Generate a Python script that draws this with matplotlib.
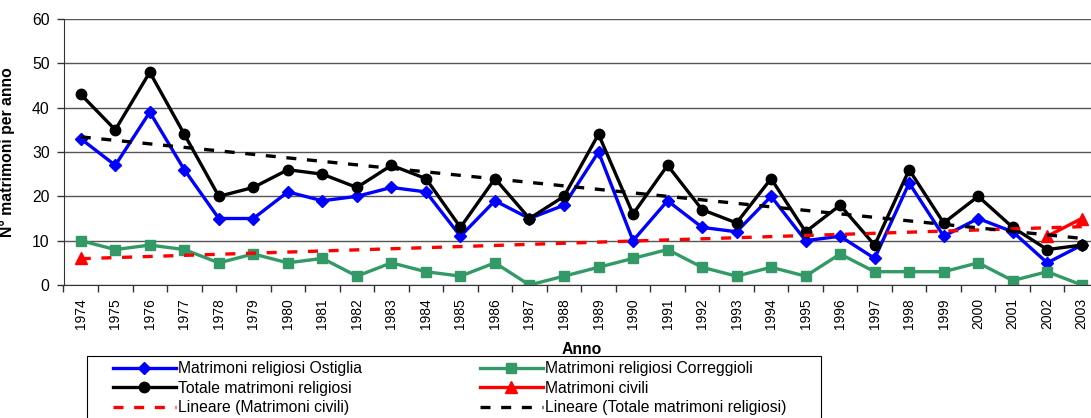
import matplotlib
matplotlib.use("Agg")
import matplotlib.pyplot as plt
from matplotlib.patches import Rectangle
import numpy as np

plt.rcParams['font.family'] = ['Liberation Sans', 'DejaVu Sans']

# dati
anni = list(range(1974, 2004))
ostiglia = [33, 27, 39, 26, 15, 15, 21, 19, 20, 22, 21, 11, 19, 15, 18,
            30, 10, 19, 13, 12, 20, 10, 11, 6, 23, 11, 15, 12, 5, 9]
correggioli = [10, 8, 9, 8, 5, 7, 5, 6, 2, 5, 3, 2, 5, 0, 2,
               4, 6, 8, 4, 2, 4, 2, 7, 3, 3, 3, 5, 1, 3, 0]
totale = [43, 35, 48, 34, 20, 22, 26, 25, 22, 27, 24, 13, 24, 15, 20,
          34, 16, 27, 17, 14, 24, 12, 18, 9, 26, 14, 20, 13, 8, 9]
civili = [6] + [None] * 27 + [11, 15]

FS = 11.3
W, H = 1091, 418
x = np.arange(len(anni))
civ = np.array([np.nan if v is None else v for v in civili], dtype=float)

fig = plt.figure(figsize=(W / 100, H / 100), dpi=100)
ax = fig.add_axes([63.5 / W, 1 - 285 / H, 1035.5 / W, 266 / H])

l1, = ax.plot(x, ostiglia, color="#0000ff", lw=2.4, marker="D", ms=6.5,
              label="Matrimoni religiosi Ostiglia")
l2, = ax.plot(x, correggioli, color="#339966", lw=2.4, marker="s", ms=7,
              label="Matrimoni religiosi Correggioli")
l3, = ax.plot(x, totale, color="black", lw=2.4, marker="o", ms=7.5,
              label="Totale matrimoni religiosi")
l4, = ax.plot(x, civ, color="#ff0000", lw=2.4, marker="^", ms=8,
              label="Matrimoni civili")

# linee di tendenza lineari (come Excel)
ok = ~np.isnan(civ)
pc = np.polyfit(x[ok], civ[ok], 1)
pt = np.polyfit(x, totale, 1)
l5, = ax.plot(x, np.polyval(pc, x), color="#ff0000", lw=2.4, ls=(0, (3, 3.2)),
              label="Lineare (Matrimoni civili)")
l6, = ax.plot(x, np.polyval(pt, x), color="black", lw=2.4, ls=(0, (3, 3.2)),
              label="Lineare (Totale matrimoni religiosi)")

ax.set_xlim(-0.5, len(anni) - 0.5)
ax.set_ylim(0, 60)
ax.set_yticks(range(0, 61, 10))
ax.yaxis.grid(True, color="#555555", lw=1)
ax.set_axisbelow(True)
ax.set_xticks(x)
ax.set_xticklabels([str(a) for a in anni], rotation=90, fontsize=10,
                   family=['Liberation Sans Narrow', 'Liberation Sans'])
ax.set_xticks(np.arange(-0.5, len(anni), 1), minor=True)
ax.tick_params(axis="x", which="major", length=0, pad=9.4)
ax.tick_params(axis="x", which="minor", length=5, width=1, color="#333333")
ax.tick_params(axis="y", length=5, width=1, pad=5, labelsize=FS, color="#333333")
for s in ["top", "right"]:
    ax.spines[s].set_visible(False)
ax.spines["left"].set_color("#333333")
ax.spines["bottom"].set_color("#333333")

ax.set_ylabel("N° matrimoni per anno", fontsize=FS, fontweight="bold")
ax.yaxis.set_label_coords(-0.047, 0.5)
ax.set_xlabel("Anno", fontsize=FS, fontweight="bold")
ax.xaxis.set_label_coords(0.5, -0.215)

# legenda: cornice disegnata a parte, taglia il bordo inferiore
fig.patches.append(Rectangle((87 / W, -0.1), 734 / W, 0.1 + 1 - 356 / H,
                             transform=fig.transFigure, fill=True, facecolor="white",
                             edgecolor="black", lw=0.8, zorder=1))
handles = [l1, l3, l5, l2, l4, l6]
leg = fig.legend(handles=handles, labels=[h.get_label() for h in handles],
                 loc="upper left", bbox_to_anchor=(113 / W, 1 - 361 / H),
                 ncol=2, fontsize=FS, frameon=False, handlelength=4.0,
                 handletextpad=0.15, columnspacing=7.5, borderpad=0,
                 labelspacing=0.3, borderaxespad=0)
leg.set_zorder(2)

fig.savefig("out.png", dpi=100)
